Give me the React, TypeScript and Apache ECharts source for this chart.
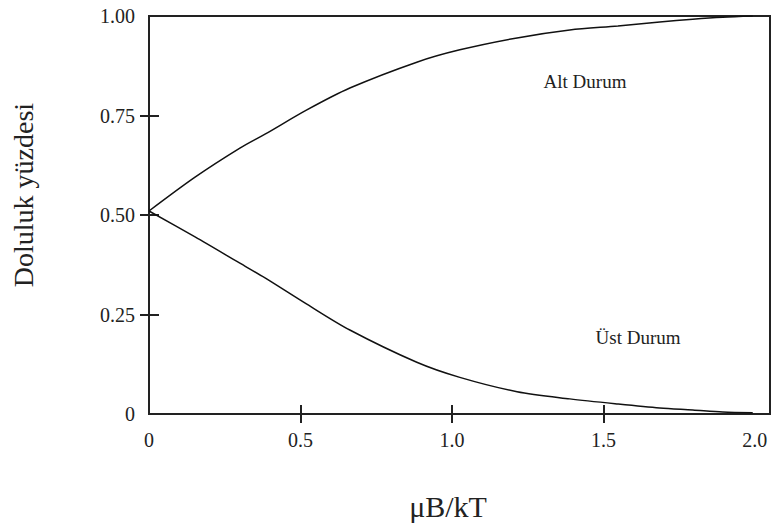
import React, { useEffect, useRef } from "react";
import * as echarts from "echarts";

const xValues = [0, 0.152, 0.3, 0.383, 0.521, 0.663, 0.884, 1.026, 1.215, 1.389, 1.548, 1.686, 1.795, 1.894, 1.993];
const altDurum = [0.51, 0.595, 0.668, 0.703, 0.764, 0.819, 0.884, 0.915, 0.945, 0.965, 0.975, 0.985, 0.992, 0.997, 1.0];
const ustDurum = [0.51, 0.445, 0.379, 0.342, 0.276, 0.211, 0.13, 0.092, 0.056, 0.038, 0.025, 0.015, 0.01, 0.005, 0.003];
const xTickLabels = [0, 0.5, 1.0, 1.5, 2.0];
const yTickLabels = [0, 0.25, 0.5, 0.75, 1.0];
const xTicks = [0.5, 1.0, 1.5];
const yTicks = [0.25, 0.5, 0.75];

const FONT = "'Liberation Serif', 'Times New Roman', serif";

export default function App() {
  const ref = useRef<HTMLDivElement>(null);
  useEffect(() => {
    if (!ref.current) return;
    const chart = echarts.init(ref.current, null, { renderer: "svg" });
    const xMax = 2.05;
    const baseX = {
      type: "value",
      min: 0,
      max: xMax,
      position: "bottom",
      axisLine: { show: false },
      splitLine: { show: false },
    };
    const baseY = {
      type: "value",
      min: 0,
      max: 1,
      position: "left",
      axisLine: { show: false },
      splitLine: { show: false },
    };
    chart.setOption({
      animation: false,
      backgroundColor: "#ffffff",
      grid: {
        left: 149,
        right: 11,
        top: 16,
        bottom: 110,
        show: true,
        borderColor: "#222",
        borderWidth: 2,
        backgroundColor: "transparent",
      },
      xAxis: [
        {
          ...baseX,
          axisTick: {
            show: true,
            inside: false,
            length: 9,
            customValues: xTicks,
            lineStyle: { color: "#222", width: 2 },
          },
          axisLabel: {
            show: true,
            customValues: xTickLabels,
            margin: 16,
            fontFamily: FONT,
            fontSize: 20,
            color: "#222",
            formatter: (v: number) => (v === 0 ? "0" : v.toFixed(1)),
          },
        },
        {
          ...baseX,
          axisTick: {
            show: true,
            inside: true,
            length: 9,
            customValues: xTicks,
            lineStyle: { color: "#222", width: 2 },
          },
          axisLabel: { show: false },
        },
      ],
      yAxis: [
        {
          ...baseY,
          axisTick: {
            show: true,
            inside: false,
            length: 9,
            customValues: yTicks,
            lineStyle: { color: "#222", width: 2 },
          },
          axisLabel: {
            show: true,
            customValues: yTickLabels,
            margin: 14,
            fontFamily: FONT,
            fontSize: 20,
            color: "#222",
            formatter: (v: number) => (v === 0 ? "0" : v.toFixed(2)),
          },
        },
        {
          ...baseY,
          axisTick: {
            show: true,
            inside: true,
            length: 10,
            customValues: yTicks,
            lineStyle: { color: "#222", width: 2 },
          },
          axisLabel: { show: false },
        },
      ],
      series: [
        {
          name: "Alt Durum",
          type: "line",
          xAxisIndex: 0,
          yAxisIndex: 0,
          showSymbol: false,
          smooth: 0.3,
          lineStyle: { color: "#111", width: 1.5 },
          data: xValues.map((x, i) => [x, altDurum[i]]),
        },
        {
          name: "Üst Durum",
          type: "line",
          xAxisIndex: 0,
          yAxisIndex: 0,
          showSymbol: false,
          smooth: 0.3,
          lineStyle: { color: "#111", width: 1.5 },
          data: xValues.map((x, i) => [x, ustDurum[i]]),
        },
      ],
      graphic: [
        {
          type: "text",
          x: 23,
          y: 195,
          rotation: Math.PI / 2,
          style: {
            text: "Doluluk yüzdesi",
            font: `28px ${FONT}`,
            fill: "#222",
            align: "center",
            verticalAlign: "middle",
          },
        },
        {
          type: "text",
          x: 448,
          y: 506,
          style: {
            text: "μB/kT",
            font: `30px ${FONT}`,
            fill: "#222",
            align: "center",
            verticalAlign: "middle",
          },
        },
        {
          type: "text",
          x: 585,
          y: 81,
          style: {
            text: "Alt Durum",
            font: `19px ${FONT}`,
            fill: "#222",
            align: "center",
            verticalAlign: "middle",
          },
        },
        {
          type: "text",
          x: 638,
          y: 337,
          style: {
            text: "Üst Durum",
            font: `19px ${FONT}`,
            fill: "#222",
            align: "center",
            verticalAlign: "middle",
          },
        },
      ],
    });
    return () => chart.dispose();
  }, []);
  return (
    <div
      ref={ref}
      style={{ position: "fixed", left: 0, top: 0, width: 781, height: 524, background: "#fff" }}
    />
  );
}
